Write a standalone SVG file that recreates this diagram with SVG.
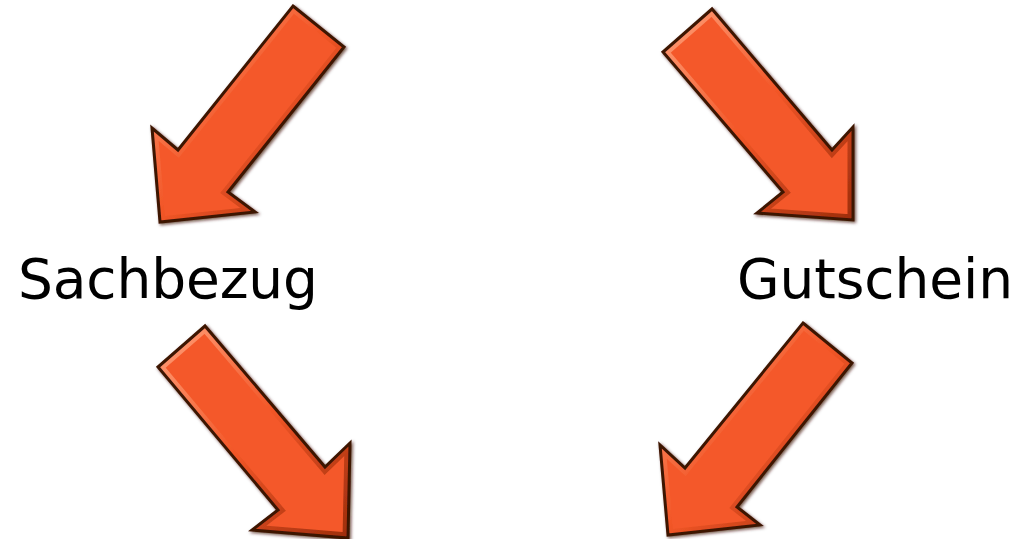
<svg xmlns="http://www.w3.org/2000/svg" xmlns:xlink="http://www.w3.org/1999/xlink" width="1022" height="539" viewBox="0 0 1022 539">
<style>
.lbl{font-family:"DejaVu Sans","Open Sans",sans-serif;font-size:55px;fill:#000}
.body{fill:#f4592a}
.bevel{fill:none;stroke:url(#bev);stroke-width:11;stroke-linejoin:miter}
.edge{fill:none;stroke:#3e1406;stroke-width:3;stroke-linejoin:miter}
</style>
<defs>
<linearGradient id="bev" x1="0" y1="0" x2="1" y2="1">
<stop offset="0" stop-color="#ffa07a"/>
<stop offset="0.5" stop-color="#f25627"/>
<stop offset="1" stop-color="#9c2d0c"/>
</linearGradient>
<filter id="sh" x="-10%" y="-10%" width="120%" height="120%">
<feDropShadow dx="1.5" dy="1.5" stdDeviation="1.5" flood-color="#3a1005" flood-opacity="0.7"/>
</filter>
<polygon id="a1" points="293,6 344,47 228,192 255,212 160,222 152,128 178,150"/>
<polygon id="a2" points="712,9 663,52 783,192 757,213 853,220 853,127 832,150"/>
<polygon id="a3" points="205,326 158,367 278,510 252,530 348,538 350,443 325,467"/>
<polygon id="a4" points="803,323 852,363 737,507 760,525 668,535 660,445 685,468"/>
<clipPath id="c1"><use xlink:href="#a1"/></clipPath>
<clipPath id="c2"><use xlink:href="#a2"/></clipPath>
<clipPath id="c3"><use xlink:href="#a3"/></clipPath>
<clipPath id="c4"><use xlink:href="#a4"/></clipPath>
</defs>
<g id="connectors">
<g id="arrow-top-left" filter="url(#sh)">
<use xlink:href="#a1" class="body"/>
<use xlink:href="#a1" class="bevel" clip-path="url(#c1)"/>
<use xlink:href="#a1" class="edge"/>
</g>
<g id="arrow-top-right" filter="url(#sh)">
<use xlink:href="#a2" class="body"/>
<use xlink:href="#a2" class="bevel" clip-path="url(#c2)"/>
<use xlink:href="#a2" class="edge"/>
</g>
<g id="arrow-bottom-left" filter="url(#sh)">
<use xlink:href="#a3" class="body"/>
<use xlink:href="#a3" class="bevel" clip-path="url(#c3)"/>
<use xlink:href="#a3" class="edge"/>
</g>
<g id="arrow-bottom-right" filter="url(#sh)">
<use xlink:href="#a4" class="body"/>
<use xlink:href="#a4" class="bevel" clip-path="url(#c4)"/>
<use xlink:href="#a4" class="edge"/>
</g>
</g>
<g id="node-sachbezug">
<text class="lbl" x="18" y="298" textLength="300">Sachbezug</text>
</g>
<g id="node-gutschein">
<text class="lbl" x="737" y="298" textLength="276">Gutschein</text>
</g>
</svg>
